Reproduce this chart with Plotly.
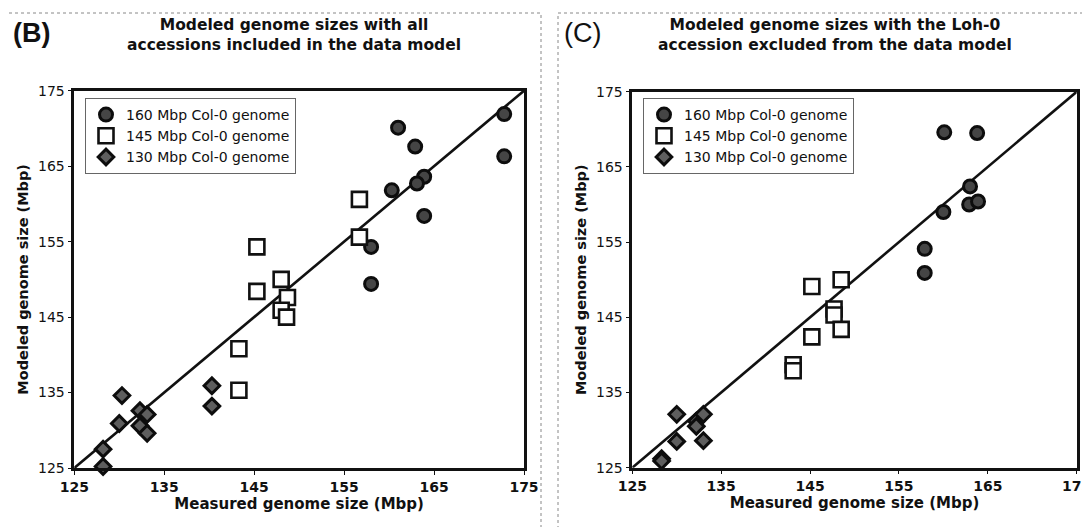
import plotly.graph_objects as go

# ---------------- data ----------------
# Panel B: all accessions included
b_circ_x = [172.8, 172.8, 161.0, 162.9, 163.9, 163.1, 160.3, 163.9, 158.0, 158.0]
b_circ_y = [171.9, 166.3, 170.1, 167.6, 163.6, 162.7, 161.8, 158.4, 154.3, 149.4]
b_sq_x = [156.7, 156.7, 145.3, 145.3, 148.0, 148.7, 148.0, 148.6, 143.3, 143.3]
b_sq_y = [160.6, 155.6, 154.3, 148.4, 150.0, 147.6, 145.9, 145.0, 140.8, 135.3]
b_dia_x = [130.3, 130.0, 132.3, 132.3, 133.1, 133.1, 128.2, 128.2, 140.3, 140.3]
b_dia_y = [134.6, 130.9, 132.6, 130.6, 132.1, 129.6, 127.5, 125.2, 135.9, 133.2]

# Panel C: Loh-0 accession excluded
c_circ_x = [160.1, 163.8, 163.0, 162.9, 163.9, 160.0, 157.9, 157.9]
c_circ_y = [169.6, 169.5, 162.4, 160.0, 160.4, 159.0, 154.1, 150.9]
c_sq_x = [148.5, 145.2, 147.7, 147.7, 148.5, 145.2, 143.1, 143.1]
c_sq_y = [150.0, 149.1, 146.1, 145.3, 143.4, 142.4, 138.7, 137.9]
c_dia_x = [130.0, 130.0, 132.2, 132.2, 133.0, 133.0, 128.3, 128.3]
c_dia_y = [132.1, 128.5, 131.2, 130.5, 132.1, 128.6, 126.2, 125.9]

identity = [125, 175]
tick_vals = [125, 135, 145, 155, 165, 175]
series_names = ["160 Mbp Col-0 genome", "145 Mbp Col-0 genome", "130 Mbp Col-0 genome"]
panel_tags = ["(B)", "(C)"]
panel_titles = [
    ["Modeled genome sizes with all", "accessions included in the data model"],
    ["Modeled genome sizes with the Loh-0", "accession excluded from the data model"],
]
x_title = "Measured genome size (Mbp)"
y_title = "Modeled genome size (Mbp)"

# the page body has an 8px margin; size the figure so it fills the 1090x527 window
OFF = 8
FW, FH = 1090 - OFF, 527 - OFF


def px(X):
    return (X - OFF) / FW


def py(Y):
    return (FH - (Y - OFF)) / FH


FONT = "Verdana, DejaVu Sans, sans-serif"

circ_style = dict(symbol="circle", size=13, color="#454545", line=dict(color="#0d0d0d", width=3))
sq_style = dict(symbol="square", size=15, color="white", line=dict(color="#111111", width=2.6))
dia_style = dict(symbol="diamond", size=12, color="#5e5e5e", line=dict(color="#0d0d0d", width=3))

fig = go.Figure()

panels = [
    ("x", "y", "legend", (b_circ_x, b_circ_y), (b_sq_x, b_sq_y), (b_dia_x, b_dia_y)),
    ("x2", "y2", "legend2", (c_circ_x, c_circ_y), (c_sq_x, c_sq_y), (c_dia_x, c_dia_y)),
]
for xa, ya, lg, circ, sq, dia in panels:
    fig.add_trace(go.Scatter(x=identity, y=identity, mode="lines", xaxis=xa, yaxis=ya,
                             line=dict(color="#111111", width=2.6), showlegend=False,
                             hoverinfo="skip", cliponaxis=False))
    for (mx, my), style, name in zip([circ, sq, dia], [circ_style, sq_style, dia_style], series_names):
        fig.add_trace(go.Scatter(x=mx, y=my, mode="markers", name=name, xaxis=xa, yaxis=ya,
                                 marker=style, legend=lg, cliponaxis=False))


def xaxis_cfg(domain, anchor):
    return dict(domain=domain, anchor=anchor, range=[125, 175], tickvals=tick_vals,
                ticks="outside", ticklen=4, tickwidth=1, tickcolor="#111",
                showline=True, linewidth=2.5, linecolor="#111", mirror=True,
                showgrid=False, zeroline=False, automargin=False, ticklabeloverflow="allow",
                tickfont=dict(family=FONT, size=14, color="#111", weight="bold"),
                title=dict(text=x_title, font=dict(family=FONT, size=15, color="#111", weight="bold"),
                           standoff=4))


def yaxis_cfg(domain, anchor):
    return dict(domain=domain, anchor=anchor, range=[125, 175], tickvals=tick_vals,
                ticks="outside", ticklen=4, tickwidth=1, tickcolor="#111",
                showline=True, linewidth=2.5, linecolor="#111", mirror=True,
                showgrid=False, zeroline=False, automargin=False, ticklabeloverflow="allow",
                tickfont=dict(family=FONT, size=14, color="#111"),
                title=dict(text=y_title, font=dict(family=FONT, size=14.5, color="#111", weight="bold"),
                           standoff=6))


bx0, bx1, by0, by1 = 74.3, 524.0, 468.0, 90.7
cx0, cx1, cy0, cy1 = 632.3, 1076.7, 467.7, 91.7

legend_cfg = dict(bgcolor="white", bordercolor="#666", borderwidth=1,
                  font=dict(family=FONT, size=14, color="#111"),
                  xanchor="left", yanchor="top", tracegroupgap=0, itemwidth=30)

fig.update_layout(
    width=FW, height=FH, margin=dict(l=0, r=0, t=0, b=0),
    paper_bgcolor="white", plot_bgcolor="white",
    xaxis=xaxis_cfg([px(bx0), px(bx1)], "y"),
    yaxis=yaxis_cfg([py(by0), py(by1)], "x"),
    xaxis2=xaxis_cfg([px(cx0), px(cx1)], "y2"),
    yaxis2=yaxis_cfg([py(cy0), py(cy1)], "x2"),
    legend=dict(legend_cfg, x=px(85), y=py(98)),
    legend2=dict(legend_cfg, x=px(643), y=py(98)),
    showlegend=True,
)

# panel frames
for x0, x1 in [(7, 541), (558, 1100)]:
    fig.add_shape(type="rect", xref="paper", yref="paper", x0=px(x0), x1=px(x1),
                  y0=py(540), y1=py(13), line=dict(color="#888", width=1, dash="dot"),
                  layer="below")

# panel tags and titles
tag_pos = [(11, 33), (562, 33)]
tag_weight = ["bold", "normal"]
title_cx = [294, 835]
for tag, (tx, ty), tw, lines, cx in zip(panel_tags, tag_pos, tag_weight, panel_titles, title_cx):
    fig.add_annotation(text=tag, xref="paper", yref="paper", x=px(tx), y=py(ty),
                       xanchor="left", yanchor="middle", showarrow=False,
                       font=dict(family="Arial, Liberation Sans, sans-serif", size=27,
                                 color="#111", weight=tw))
    fig.add_annotation(text="<br>".join(lines), xref="paper", yref="paper", x=px(cx), y=py(35),
                       xanchor="center", yanchor="middle", showarrow=False, align="center",
                       font=dict(family=FONT, size=15.5, color="#111", weight="bold"))

fig.write_html("out.html")
